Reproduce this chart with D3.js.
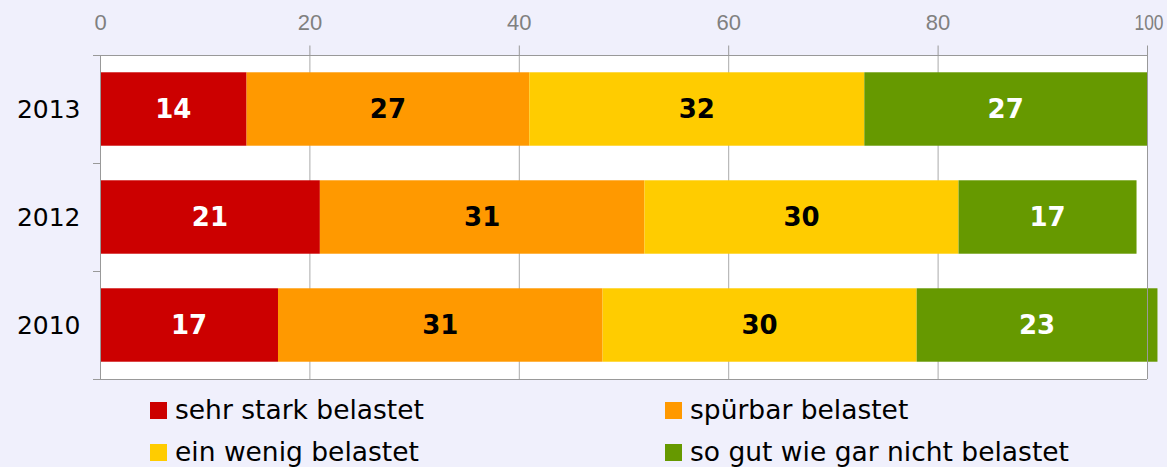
<!DOCTYPE html>
<html><head><meta charset="utf-8">
<script src="https://cdn.jsdelivr.net/npm/d3@7"></script>
<style>body{margin:0;background:#f0f0fc;}svg{display:block;font-family:"DejaVu Sans",Verdana,sans-serif;}</style>
</head><body><svg id="c" width="1167" height="467"></svg>
<script>
const years = ["2013","2012","2010"];
const seriesNames = ["sehr stark belastet","spürbar belastet","ein wenig belastet","so gut wie gar nicht belastet"];
const seriesColors = ["#cc0000","#ff9900","#ffcc00","#669900"];
const labelColors = ["#ffffff","#000000","#000000","#ffffff"];
const sehrStark = [14,21,17];
const spuerbar = [27,31,31];
const einWenig = [32,30,30];
const soGutWieGarNicht = [27,17,23];
const tickValues = [0,20,40,60,80,100];

const svg = d3.select("#c");
const L=100,R=1147,T=55,B=379;
const x = d3.scaleLinear().domain([0,100]).range([L,R]);
const y = d3.scaleBand().domain(years).range([T,B]).paddingInner(0.32).paddingOuter(0.16);

svg.append("rect").attr("x",L).attr("y",T).attr("width",R-L).attr("height",B-T).attr("fill","#fff");
svg.append("g").selectAll("line").data(tickValues.slice(1,-1)).join("line")
 .attr("x1",d=>x(d)+0.5).attr("x2",d=>x(d)+0.5).attr("y1",T).attr("y2",B).attr("stroke","#aaa").attr("stroke-width",1);

const data = years.map((yr,i)=>({year:yr,vals:[sehrStark[i],spuerbar[i],einWenig[i],soGutWieGarNicht[i]]}));
const g = svg.append("g");
data.forEach(d=>{
  let acc=0;
  d.vals.forEach((v,j)=>{
    const x0=acc; acc+=v;
    g.append("rect").attr("x",x(x0)).attr("y",y(d.year)).attr("width",x(acc)-x(x0)).attr("height",y.bandwidth()).attr("fill",seriesColors[j]);
    g.append("text").attr("x",(x(x0)+x(acc))/2).attr("y",y(d.year)+y.bandwidth()/2).attr("dy","0.36em")
     .attr("text-anchor","middle").attr("font-weight","bold").attr("font-size",26).attr("fill",labelColors[j]).text(v);
  });
});

svg.append("line").attr("x1",R+0.5).attr("x2",R+0.5).attr("y1",T).attr("y2",B).attr("stroke","#999");
svg.append("line").attr("x1",93).attr("x2",R).attr("y1",B+0.5).attr("y2",B+0.5).attr("stroke","#999");

const ax = svg.append("g").attr("transform",`translate(0,${T+0.5})`)
 .call(d3.axisTop(x).tickValues(tickValues).tickSize(7).tickPadding(19));
ax.select(".domain").attr("stroke","#999").attr("d",`M93,0H${R}`);
ax.selectAll(".tick line").attr("stroke","#999").attr("y1",-10).attr("y2",0);
ax.selectAll(".tick text").attr("fill","#808080").attr("font-size",22).attr("font-family","Liberation Sans, Arial, sans-serif");
ax.selectAll(".tick").filter(d=>d===100).select("text").attr("textLength",29).attr("lengthAdjust","spacingAndGlyphs").attr("x",1.5);
ax.selectAll(".tick").filter(d=>d===0).select("line").remove();
const ay = svg.append("g").attr("transform",`translate(${L+0.5},0)`)
  .call(d3.axisLeft(y).tickSize(0).tickPadding(20));
ay.select(".domain").attr("stroke","#999").attr("d",`M0,${T}V${B}`);
ay.selectAll(".tick text").attr("fill","#000").attr("font-size",25).attr("font-family","DejaVu Sans").attr("dy","0.36em");
svg.append("g").selectAll("line").data([T,163,271,B]).join("line")
 .attr("x1",93).attr("x2",L).attr("y1",d=>Math.round(d)+0.5).attr("y2",d=>Math.round(d)+0.5).attr("stroke","#999");

const lx=[150,665], ly=[402,444];
seriesNames.forEach((n,i)=>{
  const cx=lx[i%2], cy=ly[Math.floor(i/2)];
  svg.append("rect").attr("x",cx).attr("y",cy).attr("width",17).attr("height",17).attr("fill",seriesColors[i]);
  svg.append("text").attr("x",cx+25).attr("y",cy+17).attr("font-size",26.5).attr("fill","#000").text(n);
});
</script></body></html>
